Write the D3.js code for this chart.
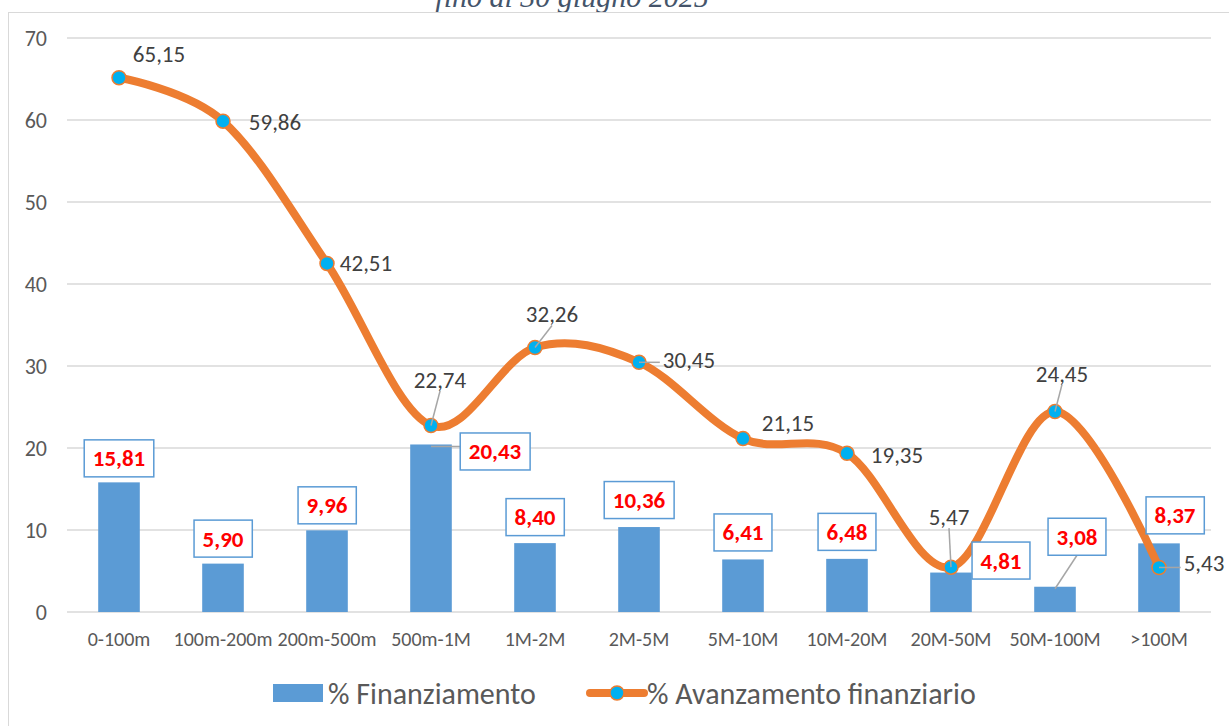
<!DOCTYPE html>
<html>
<head>
<meta charset="utf-8">
<script src="https://cdn.jsdelivr.net/npm/d3@7"></script>
<style>
  body { margin: 0; background: #fff; }
  svg { display: block; font-family: Carlito, Lato, "Open Sans", sans-serif; }
</style>
</head>
<body>
<div id="chart"></div>
<script>
// categories and values
const categories = ["0-100m", "100m-200m", "200m-500m", "500m-1M", "1M-2M", "2M-5M",
                    "5M-10M", "10M-20M", "20M-50M", "50M-100M", ">100M"];
const finanziamento = [15.81, 5.90, 9.96, 20.43, 8.40, 10.36, 6.41, 6.48, 4.81, 3.08, 8.37];
const avanzamento = [65.15, 59.86, 42.51, 22.74, 32.26, 30.45, 21.15, 19.35, 5.47, 24.45, 5.43];
const yTicks = [0, 10, 20, 30, 40, 50, 60, 70];

// label placement (offsets in px from the mark), leader = draw a connector
const lineLabelPos = [
  {dx: 40, dy: -24}, {dx: 52, dy: 1}, {dx: 39, dy: 0}, {dx: 9, dy: -46, leader: true},
  {dx: 17, dy: -33, leader: true}, {dx: 50, dy: -2, leader: true}, {dx: 45, dy: -16},
  {dx: 50, dy: 2}, {dx: -2, dy: -50, leader: true}, {dx: 7, dy: -38, leader: true},
  {dx: 45, dy: -4, leader: true}
];
const barLabelPos = [
  {dx: 0, dy: -24}, {dx: 0, dy: -25}, {dx: 0, dy: -25}, {dx: 64, dy: 7, leader: true},
  {dx: 0, dy: -26}, {dx: 0, dy: -27}, {dx: 0, dy: -27}, {dx: 0, dy: -27},
  {dx: 50, dy: -12}, {dx: 22, dy: -50, leader: true}, {dx: 16, dy: -28}
];

const W = 1229, H = 726;
const mLeft = 67, mRight = 1211, mTop = 38, mBottom = 612;

const fmt = v => v.toFixed(2).replace(".", ",");

const svg = d3.select("#chart").append("svg")
  .attr("width", W)
  .attr("height", H);

// title (cut off at the top in the original)
svg.append("text")
  .attr("x", 572)
  .attr("y", 7)
  .attr("text-anchor", "middle")
  .attr("font-family", "'Liberation Serif', serif")
  .attr("font-style", "italic")
  .attr("font-size", 30)
  .attr("fill", "#44546a")
  .text("fino al 30 giugno 2025");

// chart frame
svg.append("rect")
  .attr("x", 8.5).attr("y", 12.5)
  .attr("width", 1240).attr("height", 740)
  .attr("fill", "none")
  .attr("stroke", "#d9d9d9")
  .attr("stroke-width", 1);

const x = d3.scaleBand().domain(categories).range([mLeft, mRight]).padding(0);
const y = d3.scaleLinear().domain([0, 70]).range([mBottom, mTop]);

// gridlines
svg.append("g")
  .selectAll("line")
  .data(yTicks)
  .join("line")
  .attr("x1", mLeft).attr("x2", mRight)
  .attr("y1", d => y(d)).attr("y2", d => y(d))
  .attr("stroke", "#d9d9d9")
  .attr("stroke-width", 1.5);

// y axis
const yAxis = svg.append("g")
  .attr("transform", `translate(${mLeft - 20},0)`)
  .call(d3.axisLeft(y).tickValues(yTicks).tickSize(0).tickPadding(0));
yAxis.select(".domain").remove();
yAxis.selectAll("text")
  .attr("font-size", 22)
  .attr("font-family", "Carlito, Lato, 'Open Sans', sans-serif")
  .attr("fill", "#595959");

// x axis
const xAxis = svg.append("g")
  .attr("transform", `translate(0,${mBottom})`)
  .call(d3.axisBottom(x).tickSize(0).tickPadding(20));
xAxis.select(".domain").remove();
xAxis.selectAll("text")
  .attr("font-size", 20)
  .attr("font-family", "Carlito, Lato, 'Open Sans', sans-serif")
  .attr("fill", "#595959");

// bars
const barW = x.bandwidth() * 0.4;
svg.append("g")
  .selectAll("rect")
  .data(finanziamento)
  .join("rect")
  .attr("x", (d, i) => x(categories[i]) + x.bandwidth() / 2 - barW / 2)
  .attr("y", d => y(d))
  .attr("width", barW)
  .attr("height", d => y(0) - y(d))
  .attr("fill", "#5b9bd5");

// smoothed line
const pts = avanzamento.map((v, i) => [x(categories[i]) + x.bandwidth() / 2, y(v)]);
svg.append("path")
  .datum(pts)
  .attr("d", d3.line().curve(d3.curveCatmullRom.alpha(0)))
  .attr("fill", "none")
  .attr("stroke", "#ed7d31")
  .attr("stroke-width", 8)
  .attr("stroke-linecap", "round");

svg.append("g")
  .selectAll("circle")
  .data(pts)
  .join("circle")
  .attr("cx", d => d[0])
  .attr("cy", d => d[1])
  .attr("r", 7)
  .attr("fill", "#00b0f0")
  .attr("stroke", "#ed7d31")
  .attr("stroke-width", 1.5);

// helper: where a leader line meets the label box
function leaderEnd(px, py, b) {
  if (py > b.y + b.height) return [b.x + b.width / 2, b.y + b.height];
  return [Math.max(b.x, Math.min(px, b.x + b.width)),
          Math.max(b.y, Math.min(py, b.y + b.height))];
}

// line labels
const lineLab = svg.append("g");
pts.forEach((p, i) => {
  const pos = lineLabelPos[i];
  const t = lineLab.append("text")
    .attr("x", p[0] + pos.dx)
    .attr("y", p[1] + pos.dy)
    .attr("text-anchor", "middle")
    .attr("dominant-baseline", "central")
    .attr("font-size", 23)
    .attr("fill", "#404040")
    .text(fmt(avanzamento[i]));
  if (pos.leader) {
    const b = t.node().getBBox();
    const box = {x: b.x - 3, y: b.y + 3, width: b.width + 6, height: b.height - 6};
    const e = leaderEnd(p[0], p[1], box);
    lineLab.insert("line", "text")
      .attr("x1", p[0]).attr("y1", p[1])
      .attr("x2", e[0]).attr("y2", e[1])
      .attr("stroke", "#a6a6a6")
      .attr("stroke-width", 1.5);
  }
});

// bar labels in boxes
const barLab = svg.append("g");
finanziamento.forEach((v, i) => {
  const pos = barLabelPos[i];
  const cx = x(categories[i]) + x.bandwidth() / 2;
  const ty = y(v);
  const g = barLab.append("g");
  const t = g.append("text")
    .attr("x", cx + pos.dx)
    .attr("y", ty + pos.dy)
    .attr("text-anchor", "middle")
    .attr("dominant-baseline", "central")
    .attr("font-size", 23)
    .attr("font-weight", "bold")
    .attr("fill", "#ff0000")
    .text(fmt(v));
  const b = t.node().getBBox();
  const box = {x: b.x - 8.5, y: ty + pos.dy - 18.5, width: b.width + 17, height: 37};
  g.insert("rect", "text")
    .attr("x", box.x).attr("y", box.y)
    .attr("width", box.width).attr("height", box.height)
    .attr("fill", "#fff")
    .attr("stroke", "#5b9bd5")
    .attr("stroke-width", 1.5);
  if (pos.leader) {
    const e = leaderEnd(cx, ty + 2, box);
    barLab.insert("line", "g")
      .attr("x1", cx).attr("y1", ty + 2)
      .attr("x2", e[0]).attr("y2", e[1])
      .attr("stroke", "#a6a6a6")
      .attr("stroke-width", 1.5);
  }
});

// legend
const leg = svg.append("g");
leg.append("rect")
  .attr("x", 273).attr("y", 684)
  .attr("width", 50).attr("height", 18)
  .attr("fill", "#5b9bd5");
leg.append("text")
  .attr("x", 328).attr("y", 704)
  .attr("font-size", 30)
  .attr("fill", "#595959")
  .text("% Finanziamento");
leg.append("line")
  .attr("x1", 590).attr("x2", 644)
  .attr("y1", 693).attr("y2", 693)
  .attr("stroke", "#ed7d31")
  .attr("stroke-width", 8)
  .attr("stroke-linecap", "round");
leg.append("circle")
  .attr("cx", 617).attr("cy", 693).attr("r", 7)
  .attr("fill", "#00b0f0")
  .attr("stroke", "#ed7d31")
  .attr("stroke-width", 1.5);
leg.append("text")
  .attr("x", 647).attr("y", 704)
  .attr("font-size", 30)
  .attr("fill", "#595959")
  .text("% Avanzamento finanziario");
</script>
</body>
</html>
